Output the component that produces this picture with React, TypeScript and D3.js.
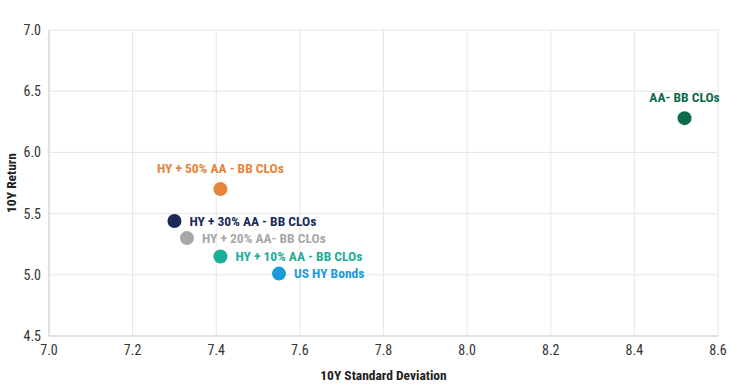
import React, { useEffect, useRef } from "react";
import * as d3 from "d3";

interface Point {
  name: string;
  sd: number;
  ret: number;
  color: string;
  pos: "top" | "right";
}

const names = [
  "AA- BB CLOs",
  "HY + 50% AA - BB CLOs",
  "HY + 30% AA - BB CLOs",
  "HY + 20% AA- BB CLOs",
  "HY + 10% AA - BB CLOs",
  "US HY Bonds",
];
const stdDevs = [8.52, 7.41, 7.30, 7.33, 7.41, 7.55];
const returns = [6.28, 5.70, 5.44, 5.30, 5.15, 5.01];
const colors = ["#0d6b4c", "#e8843a", "#1b2b57", "#a8a8a8", "#1cae98", "#1b9bd9"];
const labelPos: ("top" | "right")[] = ["top", "top", "right", "right", "right", "right"];
const xTicks = [7.0, 7.2, 7.4, 7.6, 7.8, 8.0, 8.2, 8.4, 8.6];
const yTicks = [4.5, 5.0, 5.5, 6.0, 6.5, 7.0];

const W = 737;
const H = 388;
const FONT = "'Roboto Condensed', 'Liberation Sans Narrow', 'DejaVu Sans Condensed', Roboto, sans-serif";

const App: React.FC = () => {
  const svgRef = useRef<SVGSVGElement>(null);

  useEffect(() => {
    if (!svgRef.current) return;
    const svg = d3.select(svgRef.current);
    svg.selectAll("*").remove();

    const margin = { top: 30, right: 19, bottom: 52, left: 49 };
    const width = W - margin.left - margin.right;
    const height = H - margin.top - margin.bottom;

    const data: Point[] = names.map((n, i) => ({
      name: n,
      sd: stdDevs[i],
      ret: returns[i],
      color: colors[i],
      pos: labelPos[i],
    }));

    const x = d3.scaleLinear().domain([7.0, 8.6]).range([0, width]);
    const y = d3.scaleLinear().domain([4.5, 7.0]).range([height, 0]);

    const g = svg.append("g").attr("transform", `translate(${margin.left},${margin.top})`);

    // grid
    g.append("g")
      .selectAll("line")
      .data(xTicks)
      .enter()
      .append("line")
      .attr("x1", d => x(d))
      .attr("x2", d => x(d))
      .attr("y1", 0)
      .attr("y2", height)
      .attr("stroke", "#e6e6e6")
      .attr("stroke-width", 1);

    g.append("g")
      .selectAll("line")
      .data(yTicks)
      .enter()
      .append("line")
      .attr("x1", 0)
      .attr("x2", width)
      .attr("y1", d => y(d))
      .attr("y2", d => y(d))
      .attr("stroke", "#e6e6e6")
      .attr("stroke-width", 1);

    // axis lines
    g.append("line")
      .attr("x1", 0).attr("x2", 0).attr("y1", 0).attr("y2", height)
      .attr("stroke", "#d0d0d0");
    g.append("line")
      .attr("x1", 0).attr("x2", width).attr("y1", height).attr("y2", height)
      .attr("stroke", "#d0d0d0");

    // tick labels
    g.append("g")
      .selectAll("text")
      .data(xTicks)
      .enter()
      .append("text")
      .attr("x", d => x(d))
      .attr("y", height + 19)
      .attr("text-anchor", "middle")
      .attr("font-family", FONT)
      .attr("font-size", 14)
      .attr("fill", "#333")
      .text(d => d3.format(".1f")(d));

    g.append("g")
      .selectAll("text")
      .data(yTicks)
      .enter()
      .append("text")
      .attr("x", -8)
      .attr("y", d => y(d))
      .attr("dy", "0.35em")
      .attr("text-anchor", "end")
      .attr("font-family", FONT)
      .attr("font-size", 14)
      .attr("fill", "#333")
      .text(d => d3.format(".1f")(d));

    // axis titles
    g.append("text")
      .attr("x", width / 2)
      .attr("y", height + 44)
      .attr("text-anchor", "middle")
      .attr("font-family", FONT)
      .attr("font-size", 13.5)
      .attr("font-weight", "bold")
      .attr("fill", "#222")
      .text("10Y Standard Deviation");

    g.append("text")
      .attr("transform", `translate(${-33},${height / 2}) rotate(-90)`)
      .attr("text-anchor", "middle")
      .attr("font-family", FONT)
      .attr("font-size", 13.5)
      .attr("font-weight", "bold")
      .attr("fill", "#222")
      .text("10Y Return");

    // points
    g.selectAll(".dot")
      .data(data)
      .enter()
      .append("circle")
      .attr("class", "dot")
      .attr("cx", d => x(d.sd))
      .attr("cy", d => y(d.ret))
      .attr("r", 7)
      .attr("fill", d => d.color);

    // labels
    g.selectAll(".lbl")
      .data(data)
      .enter()
      .append("text")
      .attr("class", "lbl")
      .attr("x", d => (d.pos === "top" ? x(d.sd) : x(d.sd) + 15))
      .attr("y", d => (d.pos === "top" ? y(d.ret) - 16 : y(d.ret)))
      .attr("dy", d => (d.pos === "top" ? 0 : "0.35em"))
      .attr("text-anchor", d => (d.pos === "top" ? "middle" : "start"))
      .attr("font-family", FONT)
      .attr("font-size", 13.5)
      .attr("font-weight", "bold")
      .attr("fill", d => d.color)
      .text(d => d.name);
  }, []);

  return (
    <svg
      ref={svgRef}
      width={W}
      height={H}
      style={{ position: "absolute", left: 0, top: 0, background: "#fff" }}
    />
  );
};

export default App;
